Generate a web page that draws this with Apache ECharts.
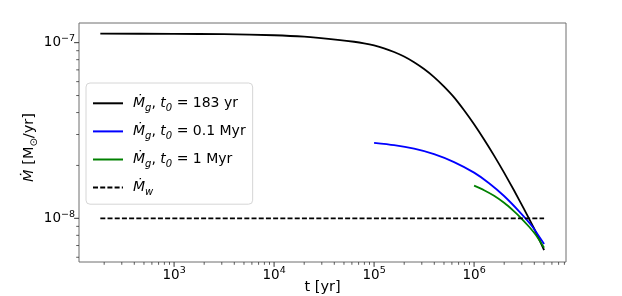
<!DOCTYPE html>
<html>
<head>
<meta charset="utf-8">
<script src="https://cdn.jsdelivr.net/npm/echarts@6/dist/echarts.min.js"></script>
<style>html,body{margin:0;padding:0;background:#fff;}#c{width:622px;height:296px;}</style>
</head>
<body>
<div id="c"></div>
<script>
// ---- data ----
const tBlack = [183, 1000, 3162, 10000, 19950, 45710, 63100, 79430, 100000, 125900, 158500, 199500, 251200, 316200, 398100, 501200, 631000, 794300, 1000000, 1259000, 1585000, 1995000, 2512000, 3162000, 3981000, 5012000];
const mBlack = [1.125e-7, 1.122e-7, 1.117e-7, 1.102e-7, 1.081e-7, 1.035e-7, 1.012e-7, 9.91e-8, 9.64e-8, 9.29e-8, 8.85e-8, 8.34e-8, 7.74e-8, 7.08e-8, 6.37e-8, 5.62e-8, 4.88e-8, 4.12e-8, 3.43e-8, 2.81e-8, 2.275e-8, 1.82e-8, 1.439e-8, 1.127e-8, 8.75e-9, 6.6e-9];
const tBlue = [100000, 158500, 251200, 398100, 631000, 1000000, 1413000, 1995000, 2818000, 3802000, 5012000];
const mBlue = [2.69e-8, 2.61e-8, 2.49e-8, 2.32e-8, 2.09e-8, 1.82e-8, 1.585e-8, 1.34e-8, 1.096e-8, 9.02e-9, 7.14e-9];
const tGreen = [1000000, 1259000, 1585000, 1995000, 2512000, 2818000, 3548000, 4169000, 5012000];
const mGreen = [1.535e-8, 1.445e-8, 1.343e-8, 1.225e-8, 1.096e-8, 1.03e-8, 8.95e-9, 8.0e-9, 6.79e-9];
const tWind = [183, 5012000];
const mWind = [1e-8, 1e-8];
const xMajorTicks = [1e3, 1e4, 1e5, 1e6];
const yMajorTicks = [1e-8, 1e-7];
const xMin = 112, xMax = 8.3e6, yMin = 5.64e-9, yMax = 1.294e-7;

const zip = (a, b) => a.map((v, i) => [v, b[i]]);
const FONT = 'DejaVu Sans';

const legendText = {
  g183: '{i|Ṁ}{s|g}{n|, }{i|t}{s|0}{n| = 183 yr}',
  g01: '{i|Ṁ}{s|g}{n|, }{i|t}{s|0}{n| = 0.1 Myr}',
  g1: '{i|Ṁ}{s|g}{n|, }{i|t}{s|0}{n| = 1 Myr}',
  w: '{i|Ṁ}{s|w}'
};

function powLabel(v) {
  const e = Math.log10(v);
  const r = Math.round(e);
  if (Math.abs(e - r) > 1e-6) return '';
  return '{b|10}{p|' + String(r).replace('-', '\u2212') + '}';
}
const tickRich = {
  b: {fontFamily: FONT, fontSize: 13.5, color: '#000', lineHeight: 18, verticalAlign: 'middle'},
  p: {fontFamily: FONT, fontSize: 9.5, color: '#000', lineHeight: 10, verticalAlign: 'top'}
};

const chart = echarts.init(document.getElementById('c'), null, {renderer: 'canvas'});
const lineBase = {type: 'line', showSymbol: false, symbol: 'none', smooth: 0.25, animation: false};
chart.setOption({
  animation: false,
  backgroundColor: '#fff',
  grid: {left: 79, top: 23, right: 56, bottom: 34, show: true, borderColor: '#6e6e6e', borderWidth: 1,
         backgroundColor: 'transparent', outerBoundsMode: 'none', containLabel: false},
  xAxis: {
    type: 'log', logBase: 10, min: xMin, max: xMax, splitNumber: 5,
    name: 't [yr]', nameLocation: 'middle', nameGap: 18, nameMoveOverlap: false,
    nameTextStyle: {fontFamily: FONT, fontSize: 14.5, color: '#000', verticalAlign: 'top'},
    axisLine: {show: false}, axisTick: {show: false}, splitLine: {show: false},
    axisLabel: {formatter: powLabel, rich: tickRich, margin: 4, showMinLabel: false, showMaxLabel: false}
  },
  yAxis: {
    type: 'log', logBase: 10, min: yMin, max: yMax, splitNumber: 5,
    name: '{i|Ṁ}{n| [M}{s|⊙}{n|/yr]}', nameLocation: 'middle', nameGap: 40, nameMoveOverlap: false,
    nameTextStyle: {fontFamily: FONT, fontSize: 14.5, color: '#000', padding: [0, 10, 0, 0], rich: {
      i: {fontFamily: FONT, fontStyle: 'italic', fontSize: 14.5, lineHeight: 20, verticalAlign: 'middle'},
      n: {fontFamily: FONT, fontSize: 14.5, lineHeight: 20, verticalAlign: 'middle'},
      s: {fontFamily: FONT, fontSize: 10, lineHeight: 12, verticalAlign: 'bottom'}
    }},
    axisLine: {show: false}, axisTick: {show: false}, splitLine: {show: false},
    axisLabel: {formatter: powLabel, rich: tickRich, margin: 4, showMinLabel: false, showMaxLabel: false}
  },
  legend: {
    orient: 'vertical', left: 86, top: 83,
    data: ['g183', 'g01', 'g1', 'w'],
    itemWidth: 30, itemHeight: 14, itemGap: 11.1,
    padding: [13.3, 7, 6.6, 6],
    itemStyle: {opacity: 0},
    backgroundColor: 'rgba(255,255,255,0.8)', borderColor: '#d6d6d6', borderWidth: 1, borderRadius: 4,
    formatter: n => legendText[n],
    textStyle: {
      fontFamily: FONT, fontSize: 14, color: '#000', padding: [0, 0, 0, 5],
      rich: {
        i: {fontFamily: FONT, fontStyle: 'italic', fontSize: 14, lineHeight: 20, verticalAlign: 'middle', color: '#000'},
        n: {fontFamily: FONT, fontSize: 14, lineHeight: 20, verticalAlign: 'middle', color: '#000'},
        s: {fontFamily: FONT, fontStyle: 'italic', fontSize: 10, lineHeight: 12, verticalAlign: 'bottom', color: '#000'}
      }
    }
  },
  series: [
    Object.assign({}, lineBase, {name: 'g183', data: zip(tBlack, mBlack), lineStyle: {color: '#000000', width: 1.8}, itemStyle: {color: '#000000'}}),
    Object.assign({}, lineBase, {name: 'g01', data: zip(tBlue, mBlue), lineStyle: {color: '#0000ff', width: 1.8}, itemStyle: {color: '#0000ff'}}),
    Object.assign({}, lineBase, {name: 'g1', data: zip(tGreen, mGreen), lineStyle: {color: '#008000', width: 1.8}, itemStyle: {color: '#008000'}}),
    Object.assign({}, lineBase, {name: 'w', smooth: false, data: zip(tWind, mWind), lineStyle: {color: '#000000', width: 1.8, type: [5, 2.2]}, itemStyle: {color: '#000000'}})
  ]
});

// ---- matplotlib-style outward ticks (major + minor), placed via the axes' scales ----
function minorsBetween(lo, hi) {
  const out = [];
  for (let e = Math.floor(Math.log10(lo)); e <= Math.ceil(Math.log10(hi)); e++) {
    for (let k = 2; k <= 9; k++) {
      const v = k * Math.pow(10, e);
      if (v > lo && v < hi) out.push(v);
    }
  }
  return out;
}
const xMinorTicks = minorsBetween(xMin, xMax);
const yMinorTicks = minorsBetween(yMin, yMax);
const g = [];
const tickColor = '#333';
const corner = chart.convertToPixel({gridIndex: 0}, [xMin, yMin]);
const bottomY = corner[1], leftX = corner[0];
function xTick(v, len, w) {
  const px = chart.convertToPixel({gridIndex: 0}, [v, yMin])[0];
  g.push({type: 'line', silent: true, shape: {x1: px, y1: bottomY, x2: px, y2: bottomY + len}, style: {stroke: tickColor, lineWidth: w}});
}
function yTick(v, len, w) {
  const py = chart.convertToPixel({gridIndex: 0}, [xMin, v])[1];
  g.push({type: 'line', silent: true, shape: {x1: leftX, y1: py, x2: leftX - len, y2: py}, style: {stroke: tickColor, lineWidth: w}});
}
xMajorTicks.forEach(v => xTick(v, 4.9, 1));
xMinorTicks.forEach(v => xTick(v, 2.8, 0.8));
yMajorTicks.forEach(v => yTick(v, 4.9, 1));
yMinorTicks.forEach(v => yTick(v, 2.8, 0.8));
chart.setOption({graphic: g});
</script>
</body>
</html>
